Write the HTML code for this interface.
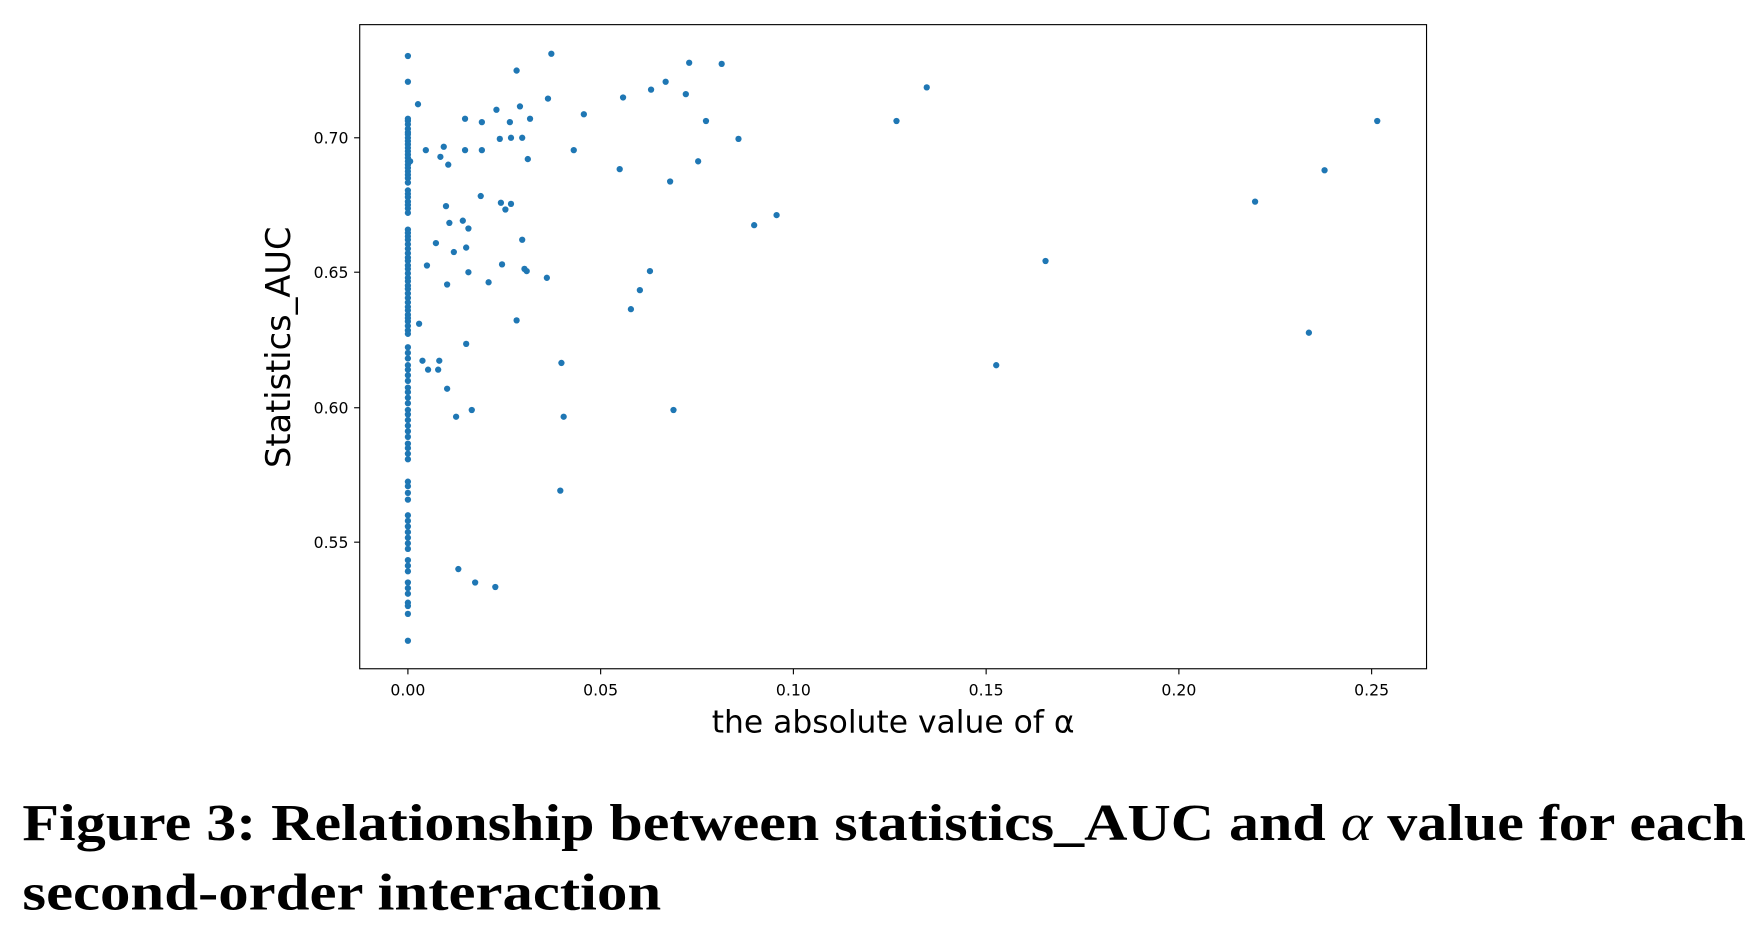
<!DOCTYPE html>
<html><head><meta charset="utf-8"><style>
html,body{margin:0;padding:0;background:#fff;}
svg{display:block;}
</style></head><body>
<svg width="1756" height="932" viewBox="0 0 1567 832" preserveAspectRatio="none" xmlns="http://www.w3.org/2000/svg">
<rect width="1567" height="832" fill="#fff"/>
<rect x="321" y="22" width="952" height="575" fill="none" stroke="#000" stroke-width="1"/>
<g stroke="#000" stroke-width="1">
<line x1="364" y1="597" x2="364" y2="602"/><line x1="536" y1="597" x2="536" y2="602"/><line x1="708" y1="597" x2="708" y2="602"/><line x1="880" y1="597" x2="880" y2="602"/><line x1="1052" y1="597" x2="1052" y2="602"/><line x1="1224" y1="597" x2="1224" y2="602"/>
<line x1="316" y1="123" x2="321" y2="123"/><line x1="316" y1="243" x2="321" y2="243"/><line x1="316" y1="364" x2="321" y2="364"/><line x1="316" y1="484" x2="321" y2="484"/>
</g>
<g font-family="DejaVu Sans, sans-serif" font-size="14" fill="#000" text-anchor="middle">
<text x="364" y="621">0.00</text><text x="536" y="621">0.05</text><text x="708" y="621">0.10</text><text x="880" y="621">0.15</text><text x="1052" y="621">0.20</text><text x="1224" y="621">0.25</text>
</g>
<g font-family="DejaVu Sans, sans-serif" font-size="14" fill="#000" text-anchor="end">
<text x="311" y="128">0.70</text><text x="311" y="248">0.65</text><text x="311" y="369">0.60</text><text x="311" y="489">0.55</text>
</g>
<text x="797" y="654" font-family="DejaVu Sans, sans-serif" font-size="28" text-anchor="middle">the absolute value of α</text>
<text transform="translate(259,310) rotate(-90)" font-family="DejaVu Sans, sans-serif" font-size="30" text-anchor="middle">Statistics_AUC</text>
<g fill="#1f77b4">
<circle cx="364" cy="50" r="2.8"/><circle cx="364" cy="73" r="2.8"/><circle cx="364" cy="106" r="2.8"/><circle cx="364" cy="108" r="2.8"/><circle cx="364" cy="111" r="2.8"/><circle cx="364" cy="115" r="2.8"/><circle cx="364" cy="118" r="2.8"/><circle cx="364" cy="120" r="2.8"/><circle cx="364" cy="123" r="2.8"/><circle cx="364" cy="126" r="2.8"/><circle cx="364" cy="129" r="2.8"/><circle cx="364" cy="132" r="2.8"/><circle cx="364" cy="135" r="2.8"/><circle cx="364" cy="138" r="2.8"/><circle cx="364" cy="141" r="2.8"/><circle cx="364" cy="144" r="2.8"/><circle cx="364" cy="147" r="2.8"/><circle cx="364" cy="150" r="2.8"/><circle cx="364" cy="153" r="2.8"/><circle cx="364" cy="156" r="2.8"/><circle cx="364" cy="159" r="2.8"/><circle cx="364" cy="163" r="2.8"/><circle cx="364" cy="170" r="2.8"/><circle cx="364" cy="173" r="2.8"/><circle cx="364" cy="176" r="2.8"/><circle cx="364" cy="180" r="2.8"/><circle cx="364" cy="183" r="2.8"/><circle cx="364" cy="186" r="2.8"/><circle cx="364" cy="190" r="2.8"/><circle cx="364" cy="205" r="2.8"/><circle cx="364" cy="208" r="2.8"/><circle cx="364" cy="211" r="2.8"/><circle cx="364" cy="214" r="2.8"/><circle cx="364" cy="218" r="2.8"/><circle cx="364" cy="222" r="2.8"/><circle cx="364" cy="226" r="2.8"/><circle cx="364" cy="230" r="2.8"/><circle cx="364" cy="233" r="2.8"/><circle cx="364" cy="237" r="2.8"/><circle cx="364" cy="240" r="2.8"/><circle cx="364" cy="244" r="2.8"/><circle cx="364" cy="248" r="2.8"/><circle cx="364" cy="251" r="2.8"/><circle cx="364" cy="255" r="2.8"/><circle cx="364" cy="258" r="2.8"/><circle cx="364" cy="262" r="2.8"/><circle cx="364" cy="266" r="2.8"/><circle cx="364" cy="270" r="2.8"/><circle cx="364" cy="274" r="2.8"/><circle cx="364" cy="277" r="2.8"/><circle cx="364" cy="281" r="2.8"/><circle cx="364" cy="284" r="2.8"/><circle cx="364" cy="287" r="2.8"/><circle cx="364" cy="291" r="2.8"/><circle cx="364" cy="295" r="2.8"/><circle cx="364" cy="298" r="2.8"/><circle cx="364" cy="310" r="2.8"/><circle cx="364" cy="315" r="2.8"/><circle cx="364" cy="320" r="2.8"/><circle cx="364" cy="326" r="2.8"/><circle cx="364" cy="330" r="2.8"/><circle cx="364" cy="335" r="2.8"/><circle cx="364" cy="340" r="2.8"/><circle cx="364" cy="346" r="2.8"/><circle cx="364" cy="350" r="2.8"/><circle cx="364" cy="355" r="2.8"/><circle cx="364" cy="360" r="2.8"/><circle cx="364" cy="366" r="2.8"/><circle cx="364" cy="370" r="2.8"/><circle cx="364" cy="375" r="2.8"/><circle cx="364" cy="380" r="2.8"/><circle cx="364" cy="385" r="2.8"/><circle cx="364" cy="390" r="2.8"/><circle cx="364" cy="396" r="2.8"/><circle cx="364" cy="400" r="2.8"/><circle cx="364" cy="405" r="2.8"/><circle cx="364" cy="410" r="2.8"/><circle cx="364" cy="430" r="2.8"/><circle cx="364" cy="434" r="2.8"/><circle cx="364" cy="440" r="2.8"/><circle cx="364" cy="446" r="2.8"/><circle cx="364" cy="460" r="2.8"/><circle cx="364" cy="465" r="2.8"/><circle cx="364" cy="470" r="2.8"/><circle cx="364" cy="475" r="2.8"/><circle cx="364" cy="480" r="2.8"/><circle cx="364" cy="485" r="2.8"/><circle cx="364" cy="490" r="2.8"/><circle cx="364" cy="500" r="2.8"/><circle cx="364" cy="505" r="2.8"/><circle cx="364" cy="510" r="2.8"/><circle cx="364" cy="520" r="2.8"/><circle cx="364" cy="525" r="2.8"/><circle cx="364" cy="530" r="2.8"/><circle cx="364" cy="538" r="2.8"/><circle cx="364" cy="541" r="2.8"/><circle cx="364" cy="548" r="2.8"/><circle cx="364" cy="572" r="2.8"/>
<circle cx="366" cy="144" r="2.8"/><circle cx="373" cy="93" r="2.8"/><circle cx="374" cy="289" r="2.8"/><circle cx="380" cy="134" r="2.8"/><circle cx="381" cy="237" r="2.8"/><circle cx="377" cy="322" r="2.8"/><circle cx="382" cy="330" r="2.8"/><circle cx="389" cy="217" r="2.8"/><circle cx="392" cy="322" r="2.8"/><circle cx="391" cy="330" r="2.8"/><circle cx="393" cy="140" r="2.8"/><circle cx="396" cy="131" r="2.8"/><circle cx="400" cy="147" r="2.8"/><circle cx="398" cy="184" r="2.8"/><circle cx="401" cy="199" r="2.8"/><circle cx="399" cy="347" r="2.8"/><circle cx="399" cy="254" r="2.8"/><circle cx="405" cy="225" r="2.8"/><circle cx="407" cy="372" r="2.8"/><circle cx="413" cy="197" r="2.8"/><circle cx="415" cy="106" r="2.8"/><circle cx="415" cy="134" r="2.8"/><circle cx="416" cy="221" r="2.8"/><circle cx="418" cy="204" r="2.8"/><circle cx="418" cy="243" r="2.8"/><circle cx="416" cy="307" r="2.8"/><circle cx="421" cy="366" r="2.8"/><circle cx="409" cy="508" r="2.8"/><circle cx="424" cy="520" r="2.8"/><circle cx="442" cy="524" r="2.8"/><circle cx="430" cy="109" r="2.8"/><circle cx="429" cy="175" r="2.8"/><circle cx="430" cy="134" r="2.8"/><circle cx="436" cy="252" r="2.8"/><circle cx="443" cy="98" r="2.8"/><circle cx="446" cy="124" r="2.8"/><circle cx="447" cy="181" r="2.8"/><circle cx="451" cy="187" r="2.8"/><circle cx="448" cy="236" r="2.8"/><circle cx="455" cy="109" r="2.8"/><circle cx="456" cy="182" r="2.8"/><circle cx="456" cy="123" r="2.8"/><circle cx="461" cy="63" r="2.8"/><circle cx="461" cy="286" r="2.8"/><circle cx="464" cy="95" r="2.8"/><circle cx="466" cy="123" r="2.8"/><circle cx="466" cy="214" r="2.8"/><circle cx="468" cy="240" r="2.8"/><circle cx="470" cy="242" r="2.8"/><circle cx="471" cy="142" r="2.8"/><circle cx="473" cy="106" r="2.8"/><circle cx="489" cy="88" r="2.8"/><circle cx="488" cy="248" r="2.8"/><circle cx="492" cy="48" r="2.8"/><circle cx="501" cy="324" r="2.8"/><circle cx="503" cy="372" r="2.8"/><circle cx="500" cy="438" r="2.8"/><circle cx="512" cy="134" r="2.8"/><circle cx="521" cy="102" r="2.8"/><circle cx="553" cy="151" r="2.8"/><circle cx="556" cy="87" r="2.8"/><circle cx="563" cy="276" r="2.8"/><circle cx="571" cy="259" r="2.8"/><circle cx="580" cy="242" r="2.8"/><circle cx="581" cy="80" r="2.8"/><circle cx="594" cy="73" r="2.8"/><circle cx="598" cy="162" r="2.8"/><circle cx="601" cy="366" r="2.8"/><circle cx="612" cy="84" r="2.8"/><circle cx="615" cy="56" r="2.8"/><circle cx="623" cy="144" r="2.8"/><circle cx="630" cy="108" r="2.8"/><circle cx="644" cy="57" r="2.8"/><circle cx="659" cy="124" r="2.8"/><circle cx="673" cy="201" r="2.8"/><circle cx="693" cy="192" r="2.8"/><circle cx="800" cy="108" r="2.8"/><circle cx="827" cy="78" r="2.8"/><circle cx="889" cy="326" r="2.8"/><circle cx="933" cy="233" r="2.8"/><circle cx="1120" cy="180" r="2.8"/><circle cx="1168" cy="297" r="2.8"/><circle cx="1182" cy="152" r="2.8"/><circle cx="1229" cy="108" r="2.8"/>
</g>
<text x="20" y="750" font-family="Liberation Serif, serif" font-weight="bold" font-size="46" textLength="1538" lengthAdjust="spacingAndGlyphs">Figure 3: Relationship between statistics_AUC and <tspan font-style="italic" font-weight="normal">α</tspan> value for each</text>
<text x="20" y="812" font-family="Liberation Serif, serif" font-weight="bold" font-size="46" textLength="570" lengthAdjust="spacingAndGlyphs">second-order interaction</text>
</svg>
</body></html>
